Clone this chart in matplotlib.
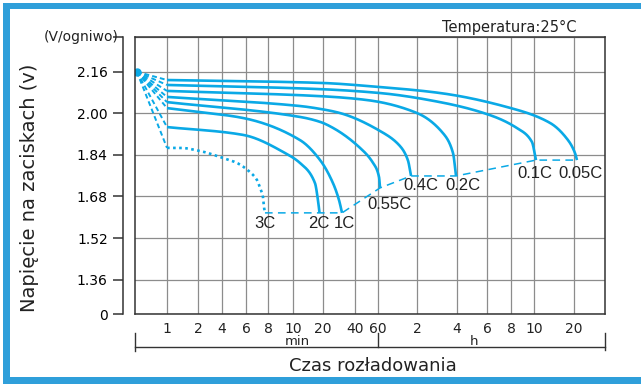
import numpy as np
import matplotlib
matplotlib.use("Agg")
import matplotlib.pyplot as plt
from matplotlib.patches import Rectangle
from matplotlib.transforms import blended_transform_factory

plt.rcParams["font.family"] = ["DejaVu Sans"]

# discharge curves: time in minutes, terminal voltage per cell
T_005 = [1, 18.7, 62, 179, 458, 792, 1081, 1220, 1260]
V_005 = [2.128, 2.117, 2.101, 2.078, 2.024, 1.963, 1.897, 1.847, 1.820]
T_01 = [1, 18.7, 62, 179, 373, 509, 588, 621]
V_01 = [2.109, 2.093, 2.078, 2.043, 1.993, 1.943, 1.890, 1.820]
T_02 = [1, 18.7, 49.4, 120, 188, 224, 236]
V_02 = [2.086, 2.066, 2.051, 2.001, 1.924, 1.847, 1.759]
T_04 = [1, 11.75, 18.7, 28.9, 62.2, 88.7, 102, 108]
V_04 = [2.063, 2.028, 2.017, 2.001, 1.932, 1.874, 1.820, 1.759]
T_055 = [1, 11.75, 18.7, 24.8, 43.7, 55, 61.1, 62.2]
V_055 = [2.043, 1.986, 1.967, 1.944, 1.867, 1.809, 1.755, 1.713]
T_1 = [1, 2.1, 5.7, 11.75, 18.7, 24.8, 28.3, 30.2]
V_1 = [2.020, 2.005, 1.982, 1.897, 1.820, 1.732, 1.666, 1.617]
T_2 = [1, 5.7, 9.48, 11.75, 16.6, 17.8, 18.45]
V_2 = [1.947, 1.917, 1.843, 1.809, 1.732, 1.666, 1.617]
T_3 = [1, 1.34, 2.12, 3.78, 5.15, 6.32, 6.93, 7.21, 7.49, 7.59, 7.69]
V_3 = [1.867, 1.867, 1.855, 1.832, 1.809, 1.774, 1.743, 1.713, 1.678, 1.640, 1.617]

RATES = ["0.05C", "0.1C", "0.2C", "0.4C", "0.55C", "1C", "2C", "3C"]
CURVES = [(T_005, V_005), (T_01, V_01), (T_02, V_02), (T_04, V_04),
          (T_055, V_055), (T_1, V_1), (T_2, V_2), (T_3, V_3)]
# label offsets from curve end, pixels
LABEL_OFFSETS = [(4, -13), (-1, -13), (7, -10), (10, -10), (9, -17), (2, -11), (-1, -11), (0, -11)]
# order in which the end-of-discharge line joins the curve ends
CUTOFF_ORDER = ["3C", "1C", "0.55C", "0.4C", "0.2C", "0.1C", "0.05C"]

START_T = 0.52
START_V = 2.16

# time axis ticks (minutes) and their labels
X_TICKS = [1, 2, 4, 6, 8, 10, 20, 40, 60, 120, 240, 360, 480, 600, 1200]
X_LABELS = ["1", "2", "4", "6", "8", "10", "20", "40", "60", "2", "4", "6", "8", "10", "20"]
X_MIN, X_MAX = 0.5, 2000
# horizontal spacing of the time grid (layout units)
X_GRID = [0, 32, 63, 87, 111, 133, 158, 188, 220, 243, 282, 322, 352, 376, 399, 439, 470]

Y_TICKS = [1.36, 1.52, 1.68, 1.84, 2.00, 2.16]
Y_MIN, Y_MAX = 1.228, 2.2935

BLUE = "#0aa9e6"
FRAME_BLUE = "#2f9fda"
DARK = "#333333"
GRID = "#8c8c8c"
TEXT = "#222222"

_log_t = np.log([X_MIN] + X_TICKS + [X_MAX])
_grid = np.array(X_GRID, dtype=float)


def fwd(t):
    t = np.clip(np.asarray(t, dtype=float), 1e-9, None)
    return np.interp(np.log(t), _log_t, _grid, left=-1e3, right=1e4)


def inv(p):
    return np.exp(np.interp(np.asarray(p, dtype=float), _grid, _log_t))


def pchip(x, y, xn):
    h = np.diff(x)
    d = np.diff(y) / h
    m = np.zeros_like(y)
    m[0], m[-1] = d[0], d[-1]
    for k in range(1, len(x) - 1):
        if d[k - 1] * d[k] > 0:
            w1 = 2 * h[k] + h[k - 1]
            w2 = h[k] + 2 * h[k - 1]
            m[k] = (w1 + w2) / (w1 / d[k - 1] + w2 / d[k])
    i = np.clip(np.searchsorted(x, xn) - 1, 0, len(x) - 2)
    t = (xn - x[i]) / h[i]
    return ((2 * t**3 - 3 * t**2 + 1) * y[i] + (t**3 - 2 * t**2 + t) * h[i] * m[i]
            + (-2 * t**3 + 3 * t**2) * y[i + 1] + (t**3 - t**2) * h[i] * m[i + 1])


def smooth(ts, vs, n=3000):
    # monotone spline of voltage over the drawn time position
    px = fwd(ts)
    py = np.asarray(vs, dtype=float)
    xn = np.linspace(px[0], px[-1], n)
    return inv(xn), pchip(px, py, xn)


fig = plt.figure(figsize=(6.41, 3.87), dpi=100)
W, H = 641.0, 387.0

# blue frame
for x0, y0, w, h in [(3, 3, 7, 381), (3, 3, 638, 6), (3, 377, 638, 7)]:
    fig.add_artist(Rectangle((x0 / W, 1 - (y0 + h) / H), w / W, h / H,
                             transform=fig.transFigure, color=FRAME_BLUE, lw=0))

ax = fig.add_axes([135 / W, 1 - 314 / H, 470 / W, 277 / H])
ax.set_xscale("function", functions=(fwd, inv))
ax.set_xlim(X_MIN, X_MAX)
ax.set_ylim(Y_MIN, Y_MAX)

ax.set_xticks(X_TICKS)
ax.set_xticklabels(X_LABELS, fontsize=10, color=TEXT)
ax.xaxis.set_minor_locator(plt.NullLocator())
ax.tick_params(axis="x", length=0, pad=6)

y_ticks = [Y_MIN] + Y_TICKS + [Y_MAX]
ax.set_yticks(y_ticks)
ax.set_yticklabels(["0"] + [f"{v:.2f}" for v in Y_TICKS] + [""], fontsize=10, color=TEXT)
ax.tick_params(axis="y", length=7, width=1.1, color=DARK, pad=4)

ax.grid(True, color=GRID, lw=0.9)
ax.set_axisbelow(True)
for s in ["top", "right", "bottom"]:
    ax.spines[s].set_color(DARK)
    ax.spines[s].set_linewidth(1.1)
ax.spines["left"].set_position(("outward", 8.6))
ax.spines["left"].set_color(DARK)
ax.spines["left"].set_linewidth(1.1)
ax.plot([0, 0], [0, 1], transform=ax.transAxes, color=DARK, lw=1.1, clip_on=False, zorder=5)

# fan from the common starting point to each curve
for t, v in CURVES:
    ax.plot([START_T, t[0]], [START_V, v[0]], color=BLUE, lw=1.4,
            linestyle=(0, (2.5, 1.6)), zorder=3)
ax.plot([START_T], [START_V], marker="o", ms=5, color=BLUE, zorder=4)

ends = {}
for name, (t, v), off in zip(RATES, CURVES, LABEL_OFFSETS):
    xs, ys = smooth(t, v)
    if name == "3C":
        ax.plot(xs, ys, color=BLUE, lw=1.9, linestyle=(0, (1, 1.3)), zorder=3)
    else:
        ax.plot(xs, ys, color=BLUE, lw=1.9, solid_capstyle="butt", zorder=3)
    ends[name] = (t[-1], v[-1])
    ax.annotate(name, (t[-1], v[-1]), xytext=off, textcoords="offset pixels",
                ha="center", va="center", fontsize=12, family="Liberation Sans",
                color=TEXT, zorder=6)

cut = np.array([ends[n] for n in CUTOFF_ORDER])
ax.plot(cut[:, 0], cut[:, 1], color=BLUE, lw=1.1, linestyle=(0, (5, 3.5)), zorder=3)

# min / h bracket under the time axis
tr = blended_transform_factory(ax.transData, ax.transAxes)
kw = dict(transform=tr, color=DARK, lw=1.0, clip_on=False)
ax.plot([X_MIN, X_MAX], [-0.119, -0.119], **kw)
ax.plot([X_MIN, X_MIN], [-0.069, -0.134], **kw)
ax.plot([60, 60], [-0.069, -0.119], **kw)
ax.plot([X_MAX, X_MAX], [-0.069, -0.13], **kw)
ax.text(11, -0.101, "min", transform=tr, ha="center", va="center", fontsize=9.5, color=TEXT)
ax.text(300, -0.101, "h", transform=tr, ha="center", va="center", fontsize=9.5, color=TEXT)

fig.text(81 / W, 1 - 37 / H, "(V/ogniwo)", ha="center", va="center", fontsize=10, color=TEXT)
fig.text(509 / W, 1 - 27 / H, "Temperatura:25°C", ha="center", va="center", fontsize=10.5, color=TEXT)
fig.text(30 / W, 1 - 188 / H, "Napięcie na zaciskach (v)", rotation=90, ha="center", va="center",
         fontsize=14, color=TEXT)
fig.text(373 / W, 1 - 366 / H, "Czas rozładowania", ha="center", va="center", fontsize=13, color=TEXT)

fig.savefig("out.png", dpi=100)
